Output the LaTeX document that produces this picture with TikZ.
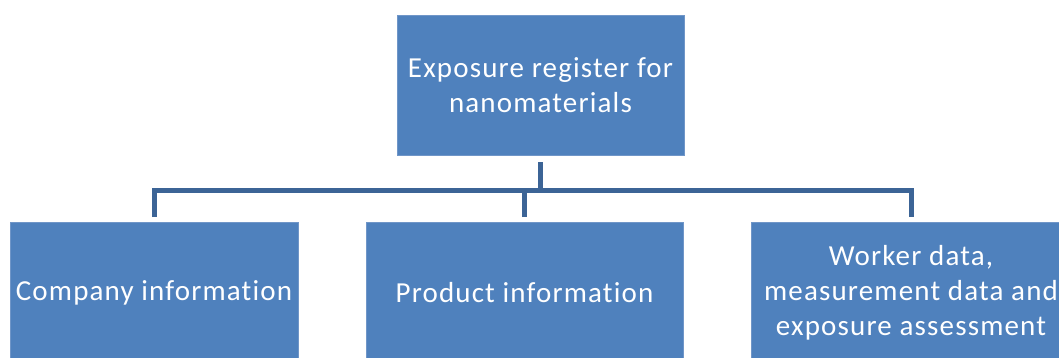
\documentclass[tikz,border=0pt]{standalone}
\usepackage{fontspec}
\setmainfont{Carlito}[Ligatures=NoCommon, LetterSpace=4]
\usepackage{tikz}
\usetikzlibrary{positioning, calc}
\definecolor{boxblue}{HTML}{4F81BD}
\definecolor{boxedge}{HTML}{7096C8}
\definecolor{linkblue}{HTML}{3C6496}

\begin{document}
\begin{tikzpicture}[
  x=1pt, y=-1pt,
  every node/.style={font=\fontsize{29}{35}\selectfont},
  topic/.style={rectangle, draw=boxedge, line width=0.8pt, fill=boxblue,
                text=white, align=center, inner sep=0pt,
                minimum height=140pt},
  link/.style={draw=linkblue, line width=5pt}
]
\path[use as bounding box, clip] (0,0) rectangle (1059,358);

\node[topic, minimum width=287pt] (register) at (540.5,85) {Exposure register for\\nanomaterials};

\node[topic, minimum width=288pt] (company) at (154,292.5) {Company information};
\node[topic, minimum width=317pt] (product) at (524.5,292.5) {Product information};
\node[topic, minimum width=320pt] (worker) at (911,292.5) {Worker data,\\measurement data and\\exposure assessment};

% bus line between the levels
\coordinate (hub) at (540.5,190);

\draw[link] ([yshift=-7pt]register.south) -- (hub);
\draw[link] ([yshift=5pt]company.north) |- (hub) -| ([yshift=5pt]worker.north);
\draw[link] ([yshift=5pt]product.north) -- (product.north |- hub);

\end{tikzpicture}
\end{document}
